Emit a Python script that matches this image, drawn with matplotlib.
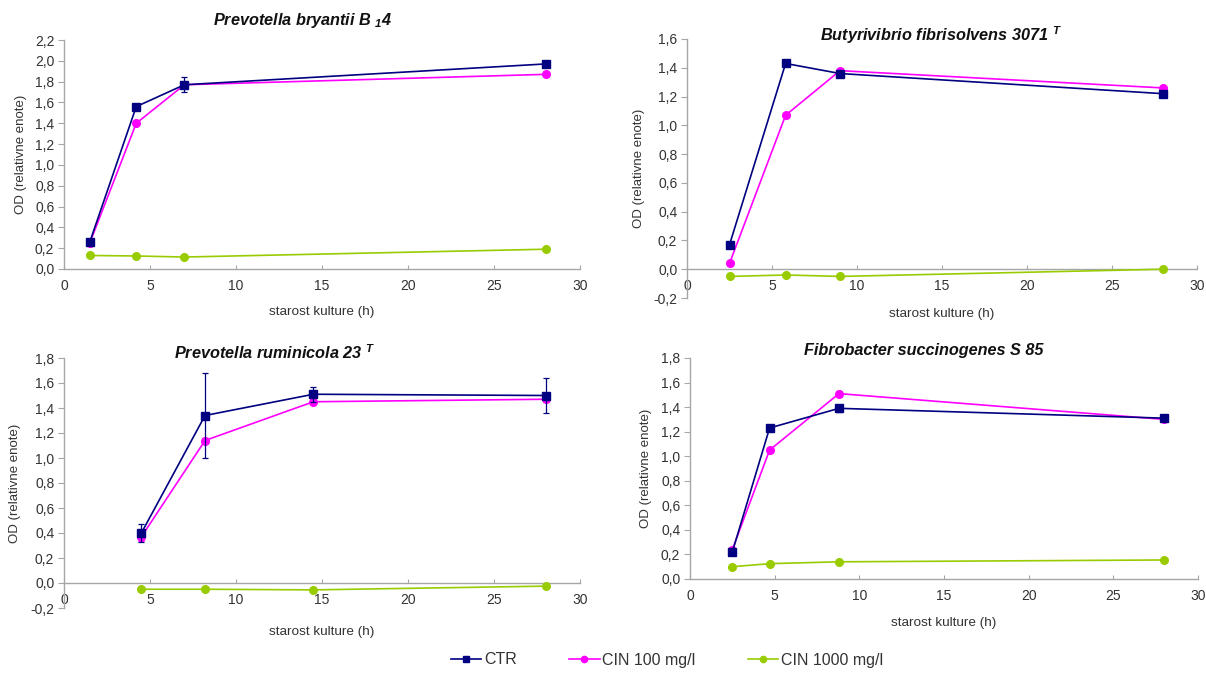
import matplotlib
matplotlib.use("Agg")
import matplotlib.pyplot as plt
from matplotlib.ticker import FuncFormatter
from matplotlib.lines import Line2D

plt.rcParams['font.family'] = ['Liberation Sans', 'DejaVu Sans']
plt.rcParams['mathtext.fontset'] = 'custom'
plt.rcParams['mathtext.it'] = 'Liberation Sans:bold:italic'
plt.rcParams['mathtext.rm'] = 'Liberation Sans:bold:italic'
plt.rcParams['mathtext.bf'] = 'Liberation Sans:bold:italic'

# ---- podatki (odčitano s slike) ----
series_names = ['CTR', 'CIN 100 mg/l', 'CIN 1000 mg/l']
series_colors = ['#000080', '#ff00ff', '#99cc00']
series_markers = ['s', 'o', 'o']

# Prevotella bryantii B14
pb_time = [1.5, 4.2, 7.0, 28.0]
pb_ctr = [0.26, 1.56, 1.77, 1.97]
pb_ctr_err = [0.01, 0.02, 0.07, 0.02]
pb_cin100 = [0.25, 1.40, 1.77, 1.87]
pb_cin100_err = [0.01, 0.01, 0.02, 0.01]
pb_cin1000 = [0.13, 0.125, 0.115, 0.19]
pb_cin1000_err = [0.005, 0.005, 0.005, 0.005]

# Butyrivibrio fibrisolvens 3071T
bf_time = [2.5, 5.8, 9.0, 28.0]
bf_ctr = [0.17, 1.43, 1.36, 1.22]
bf_ctr_err = [0.01, 0.01, 0.01, 0.01]
bf_cin100 = [0.04, 1.07, 1.38, 1.26]
bf_cin100_err = [0.01, 0.01, 0.01, 0.01]
bf_cin1000 = [-0.05, -0.04, -0.05, 0.0]
bf_cin1000_err = [0.005, 0.005, 0.005, 0.005]

# Prevotella ruminicola 23T
pr_time = [4.5, 8.2, 14.5, 28.0]
pr_ctr = [0.40, 1.34, 1.51, 1.50]
pr_ctr_err = [0.075, 0.34, 0.06, 0.14]
pr_cin100 = [0.37, 1.14, 1.45, 1.47]
pr_cin100_err = [0.03, 0.02, 0.02, 0.02]
pr_cin1000 = [-0.05, -0.05, -0.055, -0.025]
pr_cin1000_err = [0.005, 0.005, 0.005, 0.005]

# Fibrobacter succinogenes S 85
fs_time = [2.5, 4.7, 8.8, 28.0]
fs_ctr = [0.22, 1.23, 1.39, 1.31]
fs_ctr_err = [0.01, 0.01, 0.03, 0.02]
fs_cin100 = [0.24, 1.05, 1.51, 1.30]
fs_cin100_err = [0.01, 0.01, 0.02, 0.01]
fs_cin1000 = [0.10, 0.125, 0.14, 0.155]
fs_cin1000_err = [0.005, 0.005, 0.005, 0.005]

titles = [r'Prevotella bryantii B $_{1}$4',
          r'Butyrivibrio fibrisolvens 3071 $^{T}$',
          r'Prevotella ruminicola 23 $^{T}$',
          'Fibrobacter succinogenes S 85']
ylims = [(0, 2.2), (-0.2, 1.6), (-0.2, 1.8), (0, 1.8)]

# ---- postavitev (v pikslih slike 1206x675) ----
W, H = 1206, 675
boxes = [(64, 40, 580, 269), (687, 39, 1197, 298),
         (64, 358, 580, 608), (690, 358, 1198, 579)]
title_pos = [(303, 20), (941, 35), (275, 353), (924, 350)]
ylabel_x = [21, 639, 15, 646]
xlabel_y = [312, 314, 632, 623]

fig = plt.figure(figsize=(12.06, 6.75), dpi=100)
fig.patch.set_facecolor('white')

panels = [
    (pb_time, [pb_ctr, pb_cin100, pb_cin1000], [pb_ctr_err, pb_cin100_err, pb_cin1000_err]),
    (bf_time, [bf_ctr, bf_cin100, bf_cin1000], [bf_ctr_err, bf_cin100_err, bf_cin1000_err]),
    (pr_time, [pr_ctr, pr_cin100, pr_cin1000], [pr_ctr_err, pr_cin100_err, pr_cin1000_err]),
    (fs_time, [fs_ctr, fs_cin100, fs_cin1000], [fs_ctr_err, fs_cin100_err, fs_cin1000_err]),
]

comma = FuncFormatter(lambda v, p: ('%.1f' % v).replace('.', ','))
axcol = '#a6a6a6'
txtcol = '#333333'

for i, (t, ys, errs) in enumerate(panels):
    l, tp, r, b = boxes[i]
    ax = fig.add_axes([l / W, 1 - b / H, (r - l) / W, (b - tp) / H])
    # CIN 1000 spodaj, CTR zgoraj
    for k in [2, 1, 0]:
        ax.errorbar(t, ys[k], yerr=errs[k], color=series_colors[k],
                    marker=series_markers[k], markersize=6 if k == 0 else 5.5,
                    lw=1.2, capsize=2.5, elinewidth=0.9, capthick=0.9,
                    zorder=3 + (2 - k))
    ax.set_xlim(0, 30)
    ax.set_ylim(*ylims[i])
    ax.set_xticks(range(0, 31, 5))
    y0, y1 = ylims[i]
    ax.set_yticks([round(y0 + 0.2 * n, 1) for n in range(int(round((y1 - y0) / 0.2)) + 1)])
    ax.yaxis.set_major_formatter(comma)
    for s in ['top', 'right']:
        ax.spines[s].set_visible(False)
    for s in ['left', 'bottom']:
        ax.spines[s].set_color(axcol)
        ax.spines[s].set_linewidth(1.0)
    if y0 < 0:
        ax.spines['bottom'].set_position(('data', 0))
    ax.tick_params(axis='x', direction='in', length=3, color=axcol, pad=7,
                   labelsize=10, labelcolor=txtcol)
    ax.tick_params(axis='y', direction='out', length=4, color=axcol, pad=3,
                   labelsize=10, labelcolor=txtcol)
    ax.set_ylabel('OD (relativne enote)', fontsize=9.5, color=txtcol)
    ax.yaxis.set_label_coords((ylabel_x[i] - l) / (r - l), 0.5)
    ax.yaxis.label.set_va('center')
    ax.set_xlabel('starost kulture (h)', fontsize=9.7, color=txtcol)
    ax.xaxis.set_label_coords(0.5, (b - xlabel_y[i]) / (b - tp))
    ax.xaxis.label.set_va('center')
    ax.set_facecolor('none')

    tx, ty = title_pos[i]
    fig.text(tx / W, 1 - ty / H, titles[i], ha='center', va='center',
             fontsize=11.7, fontweight='bold', fontstyle='italic', color='#111111')

handles = [Line2D([], [], color=c, marker=m, markersize=4.5, lw=1.2)
           for c, m in zip(series_colors, series_markers)]
fig.legend(handles, series_names, loc='center', bbox_to_anchor=(667 / W, 1 - 660 / H),
           ncol=3, frameon=False, fontsize=11.5, columnspacing=3.3, handlelength=1.9,
           handletextpad=0.15, labelcolor=txtcol)

fig.savefig('out.png', dpi=100, facecolor='white')
